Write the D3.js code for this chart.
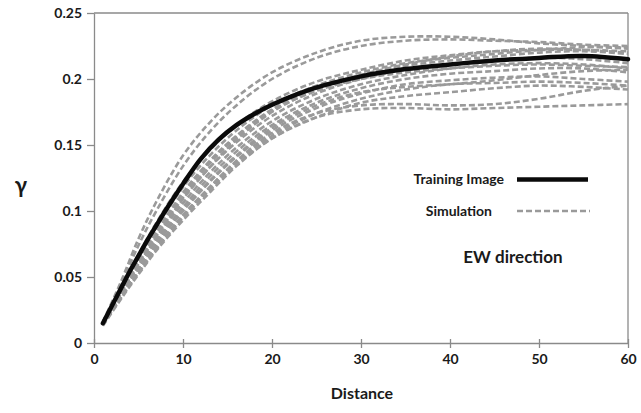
<!DOCTYPE html>
<html>
<head>
<meta charset="utf-8">
<script src="https://cdn.jsdelivr.net/npm/d3@7"></script>
<style>
  html, body { margin: 0; padding: 0; background: #fff; }
  svg { display: block; }
  text { font-family: Lato, "Open Sans", sans-serif; }
</style>
</head>
<body>
<svg id="chart" width="641" height="413"></svg>
<script>
// ---- data ----
const xTicks = [0, 10, 20, 30, 40, 50, 60];
const yTicks = [0, 0.05, 0.1, 0.15, 0.2, 0.25];
const yTickLabels = ["0", "0.05", "0.1", "0.15", "0.2", "0.25"];

const trainingDist = [1, 2, 3, 4, 5, 6, 7, 8, 9, 10, 12, 14, 16, 18, 20, 23, 26, 30, 35, 40, 45, 50, 55, 60];
const trainingGamma = [0.015, 0.028, 0.041, 0.054, 0.066, 0.078, 0.089, 0.100, 0.1105, 0.1205, 0.1395, 0.154, 0.165, 0.1735, 0.1805, 0.189, 0.1955, 0.202, 0.2075, 0.211, 0.214, 0.216, 0.2175, 0.215];

const simDist = [1, 3, 5, 7, 10, 13, 16, 20, 25, 30, 35, 40, 45, 50, 55, 60];
const sim01 = [0.016, 0.046, 0.079, 0.107, 0.142, 0.167, 0.186, 0.205, 0.220, 0.229, 0.232, 0.232, 0.230, 0.227, 0.225, 0.223];
const sim02 = [0.016, 0.044, 0.074, 0.100, 0.134, 0.160, 0.180, 0.200, 0.216, 0.225, 0.229, 0.230, 0.229, 0.228, 0.226, 0.225];
const sim03 = [0.015, 0.041, 0.067, 0.091, 0.122, 0.146, 0.165, 0.183, 0.198, 0.207, 0.214, 0.218, 0.221, 0.222, 0.222, 0.221];
const sim04 = [0.015, 0.040, 0.064, 0.087, 0.118, 0.142, 0.161, 0.180, 0.195, 0.205, 0.212, 0.216, 0.219, 0.222, 0.224, 0.224];
const sim05 = [0.015, 0.039, 0.062, 0.084, 0.114, 0.138, 0.157, 0.177, 0.193, 0.203, 0.210, 0.214, 0.217, 0.220, 0.221, 0.219];
const sim06 = [0.015, 0.038, 0.060, 0.081, 0.110, 0.133, 0.152, 0.172, 0.189, 0.200, 0.207, 0.211, 0.214, 0.216, 0.215, 0.212];
const sim07 = [0.014, 0.037, 0.058, 0.079, 0.106, 0.129, 0.148, 0.168, 0.185, 0.196, 0.203, 0.208, 0.211, 0.212, 0.211, 0.208];
const sim08 = [0.014, 0.036, 0.057, 0.077, 0.103, 0.126, 0.145, 0.165, 0.182, 0.193, 0.200, 0.204, 0.206, 0.208, 0.208, 0.205];
const sim09 = [0.014, 0.035, 0.055, 0.075, 0.100, 0.122, 0.141, 0.161, 0.178, 0.189, 0.196, 0.199, 0.201, 0.202, 0.200, 0.198];
const sim10 = [0.014, 0.034, 0.054, 0.073, 0.097, 0.118, 0.137, 0.157, 0.174, 0.185, 0.192, 0.196, 0.197, 0.198, 0.197, 0.195];
const sim11 = [0.014, 0.034, 0.053, 0.071, 0.095, 0.116, 0.135, 0.155, 0.171, 0.182, 0.187, 0.190, 0.193, 0.195, 0.194, 0.192];
const sim12 = [0.014, 0.034, 0.054, 0.072, 0.096, 0.118, 0.138, 0.159, 0.174, 0.180, 0.181, 0.180, 0.181, 0.185, 0.191, 0.195];
const sim13 = [0.013, 0.033, 0.052, 0.070, 0.093, 0.114, 0.134, 0.155, 0.171, 0.177, 0.178, 0.177, 0.178, 0.179, 0.180, 0.181];
const sim14 = [0.014, 0.036, 0.059, 0.080, 0.109, 0.133, 0.154, 0.175, 0.192, 0.203, 0.211, 0.217, 0.221, 0.223, 0.222, 0.220];
const sim15 = [0.015, 0.037, 0.061, 0.083, 0.112, 0.136, 0.156, 0.176, 0.191, 0.200, 0.205, 0.208, 0.210, 0.211, 0.210, 0.209];
const sim16 = [0.014, 0.035, 0.056, 0.076, 0.101, 0.123, 0.142, 0.163, 0.180, 0.190, 0.194, 0.196, 0.199, 0.203, 0.206, 0.207];
const simulations = [sim01, sim02, sim03, sim04, sim05, sim06, sim07, sim08, sim09, sim10, sim11, sim12, sim13, sim14, sim15, sim16];

// ---- layout ----
const svg = d3.select("#chart");
const plotL = 94, plotR = 628, plotT = 13, plotB = 343;
const x = d3.scaleLinear().domain([0, 60]).range([plotL, plotR]);
const y = d3.scaleLinear().domain([0, 0.25]).range([plotB, plotT]);
const axisColor = "#8a8a8a";
const tickTextColor = "#1a1a1a";

// frame (top & right)
svg.append("line").attr("x1", plotL).attr("x2", plotR).attr("y1", plotT).attr("y2", plotT)
  .attr("stroke", axisColor).attr("stroke-width", 1.3);
svg.append("line").attr("x1", plotR).attr("x2", plotR).attr("y1", plotT).attr("y2", plotB)
  .attr("stroke", axisColor).attr("stroke-width", 1.3);

// x axis
const xAxis = svg.append("g").attr("transform", `translate(0,${plotB})`)
  .call(d3.axisBottom(x).tickValues(xTicks).tickFormat(d3.format("d")).tickSizeInner(5).tickSizeOuter(0).tickPadding(6));
xAxis.select(".domain").attr("stroke", axisColor).attr("stroke-width", 1.3);
xAxis.selectAll(".tick line").attr("stroke", axisColor).attr("stroke-width", 1.3).attr("y1", -4);
xAxis.selectAll(".tick text").attr("fill", tickTextColor).attr("font-size", 14).attr("font-weight", "bold")
  .attr("font-family", "Lato, 'Open Sans', sans-serif");

// y axis
const yAxis = svg.append("g").attr("transform", `translate(${plotL},0)`)
  .call(d3.axisLeft(y).tickValues(yTicks).tickFormat((d, i) => yTickLabels[i]).tickSizeInner(7).tickSizeOuter(0).tickPadding(5));
yAxis.select(".domain").attr("stroke", axisColor).attr("stroke-width", 1.3);
yAxis.selectAll(".tick line").attr("stroke", axisColor).attr("stroke-width", 1.3);
yAxis.selectAll(".tick text").attr("fill", tickTextColor).attr("font-size", 14).attr("font-weight", "bold")
  .attr("font-family", "Lato, 'Open Sans', sans-serif");

// lines
const line = d3.line().curve(d3.curveCatmullRom.alpha(0.5));
const simG = svg.append("g");
simulations.forEach(s => {
  simG.append("path")
    .attr("d", line(simDist.map((d, i) => [x(d), y(s[i])])))
    .attr("fill", "none").attr("stroke", "#9a9a9a").attr("stroke-width", 2.6)
    .attr("stroke-dasharray", "6,3");
});
svg.append("path")
  .attr("d", line(trainingDist.map((d, i) => [x(d), y(trainingGamma[i])])))
  .attr("fill", "none").attr("stroke", "#0a0a0a").attr("stroke-width", 4.5)
  .attr("stroke-linecap", "round");

// legend
svg.append("text").attr("x", 504).attr("y", 184).attr("text-anchor", "end")
  .attr("font-size", 14).attr("font-weight", "bold").attr("fill", "#1a1a1a").text("Training Image");
svg.append("line").attr("x1", 517).attr("x2", 588).attr("y1", 179.5).attr("y2", 179.5)
  .attr("stroke", "#0a0a0a").attr("stroke-width", 4.5);
svg.append("text").attr("x", 492).attr("y", 216).attr("text-anchor", "end")
  .attr("font-size", 14).attr("font-weight", "bold").attr("fill", "#1a1a1a").text("Simulation");
svg.append("line").attr("x1", 517).attr("x2", 590).attr("y1", 211).attr("y2", 211)
  .attr("stroke", "#9a9a9a").attr("stroke-width", 2.6).attr("stroke-dasharray", "6,3");
svg.append("text").attr("x", 513).attr("y", 263).attr("text-anchor", "middle")
  .attr("font-size", 17).attr("font-weight", "bold").attr("fill", "#1a1a1a").text("EW direction");

// axis titles
svg.append("text").attr("x", 21).attr("y", 193).attr("text-anchor", "middle")
  .attr("font-size", 22).attr("font-weight", "bold").attr("fill", "#1a1a1a").text("γ");
svg.append("text").attr("x", 362).attr("y", 399).attr("text-anchor", "middle")
  .attr("font-size", 16).attr("font-weight", "bold").attr("fill", "#1a1a1a").text("Distance");
</script>
</body>
</html>
